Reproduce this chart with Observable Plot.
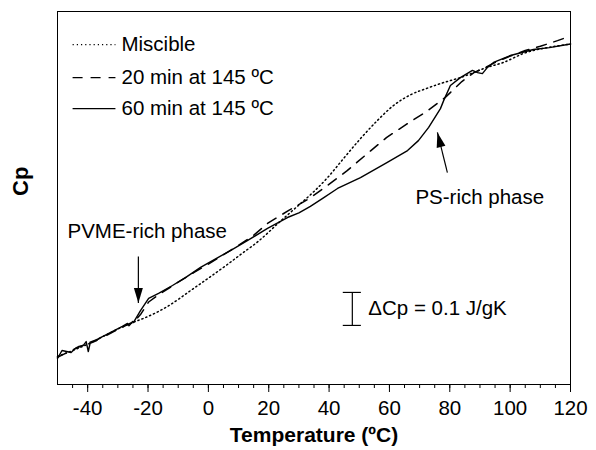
<!DOCTYPE html>
<html>
<head>
<meta charset="utf-8">
<script src="https://cdn.jsdelivr.net/npm/d3@7"></script>
<script src="https://cdn.jsdelivr.net/npm/@observablehq/plot@0.6"></script>
<style>
  html, body { margin: 0; padding: 0; background: white; }
  #chart svg { display: block; }
</style>
</head>
<body>
<div id="chart"></div>
<script>
// ---- Data ----
// 60 min at 145 ºC (solid)
const solidT  = [-50,-48.5,-47,-45.5,-44,-43,-41.5,-40.5,-39.8,-39.2,-37,-36.4,-33,-28.5,-26.8,-26.3,-25.1,-24.8,-22.5,-19.8,-16.5,-11.9,-7.6,-2.6,7.3,12.9,19.6,26.2,30,33.8,38,42.8,50.4,59.3,66,69.6,73,76.9,78,80.2,83.5,87.5,89.2,90.8,92.5,94.5,100.1,107.7,113,120];
const solidCp = [1.279,1.303,1.300,1.297,1.310,1.315,1.318,1.330,1.300,1.325,1.333,1.339,1.355,1.376,1.385,1.378,1.391,1.388,1.424,1.461,1.476,1.500,1.524,1.555,1.606,1.636,1.673,1.706,1.720,1.740,1.765,1.794,1.827,1.873,1.909,1.939,1.979,2.036,2.061,2.106,2.130,2.152,2.145,2.142,2.161,2.176,2.197,2.215,2.221,2.232];
// 20 min at 145 ºC (dashed)
const dashedT  = [-50,-45,-40,-35,-30,-26,-24.8,-22.5,-19.8,-16.5,-10,-5,0,5,10,15,19.6,26.5,33.5,39.6,46,52.7,59,65.7,72.3,78.5,84,88,92,96,100,105,110,115.7,120];
const dashedCp = [1.282,1.305,1.325,1.343,1.367,1.385,1.388,1.412,1.450,1.472,1.510,1.538,1.565,1.593,1.622,1.652,1.688,1.727,1.764,1.804,1.848,1.900,1.948,1.989,2.027,2.070,2.118,2.145,2.162,2.180,2.195,2.212,2.225,2.242,2.256];
// Miscible (dotted)
const dottedT  = [-50,-45,-40,-35,-30,-25,-20.8,-14.2,-4.9,5,11.6,16.3,23.9,30.5,35,39.5,44.8,50.4,56,61.3,67,72.6,76.9,80.2,83.5,87.8,92,97.8,105,110,115,120];
const dottedCp = [1.285,1.303,1.322,1.345,1.368,1.388,1.403,1.433,1.491,1.555,1.600,1.632,1.695,1.748,1.785,1.827,1.885,1.945,2.000,2.045,2.078,2.098,2.112,2.121,2.130,2.145,2.160,2.176,2.205,2.217,2.225,2.232];

const seriesNames = ["Miscible", "20 min at 145 ºC", "60 min at 145 ºC"];
const majorTicks = [-40, -20, 0, 20, 40, 60, 80, 100, 120];
const minorTicks = [-45,-40,-35,-30,-25,-20,-15,-10,-5,0,5,10,15,20,25,30,35,40,45,50,55,60,65,70,75,80,85,90,95,100,105,110,115];
const annotations = ["PVME-rich phase", "PS-rich phase"];
const scaleBarLabel = "ΔCp = 0.1 J/gK";
const scaleBarDelta = 0.1;

// ---- Build tables ----
const toRows = (T, C) => T.map((t, i) => ({T: t, Cp: C[i]}));
const solid = toRows(solidT, solidCp);
const dashed = toRows(dashedT, dashedCp);
const dotted = toRows(dottedT, dottedCp);

const dotDash = "1.2,3";
const dashDash = "10,8";
const FS = 20.5;

// legend rows (y position inside the frame)
const legendY = [2.230, 2.130, 2.036];
const legendDash = [dotDash, dashDash, null];
const legendRow = i => [{name: seriesNames[i], y: legendY[i]}];

// filled arrow head (tip at origin, pointing up)
const arrowHead = {
  draw(ctx) {
    ctx.moveTo(0, 0);
    ctx.lineTo(4.5, 15);
    ctx.lineTo(-4.5, 15);
    ctx.closePath();
  }
};

const arrows = [
  {x1: -23.2, y1: 1.588, x2: -23.2, y2: 1.447, rot: 180},
  {x1: 79.2, y1: 1.842, x2: 75.9, y2: 1.964, rot: -14}
];

const barX = 47.7, barY0 = 1.379;

const legendMarks = [0, 1, 2].flatMap(i => [
  Plot.link(legendRow(i), {x1: () => -45, x2: () => -30.8, y1: "y", y2: "y", stroke: "black", strokeWidth: 1.4, strokeDasharray: legendDash[i]}),
  Plot.text(legendRow(i), {x: () => -28.8, y: "y", text: "name", textAnchor: "start", fontSize: FS})
]);

const chart = Plot.plot({
  width: 596,
  height: 450,
  marginLeft: 57,
  marginRight: 26,
  marginTop: 11,
  marginBottom: 66,
  style: {fontFamily: "'Liberation Sans', Arial, Helvetica, sans-serif", fontSize: FS + "px", background: "white", color: "black"},
  x: {domain: [-50, 120]},
  y: {domain: [1.2, 1.2 + 373 / 330], axis: null},
  marks: [
    Plot.axisX({ticks: minorTicks, tickSize: 4, tickFormat: () => "", label: null}),
    Plot.axisX({ticks: majorTicks, tickSize: 8, tickPadding: 8, tickFormat: d => String(d), label: null, fontSize: FS}),
    Plot.frame({stroke: "black"}),
    Plot.line(dotted, {x: "T", y: "Cp", stroke: "black", strokeWidth: 1.5, strokeDasharray: dotDash, curve: "monotone-x"}),
    Plot.line(dashed, {x: "T", y: "Cp", stroke: "black", strokeWidth: 1.5, strokeDasharray: dashDash}),
    Plot.line(solid, {x: "T", y: "Cp", stroke: "black", strokeWidth: 1.4}),
    ...legendMarks,
    // annotations
    Plot.text([annotations[0]], {x: () => -46.7, y: () => 1.664, textAnchor: "start", fontSize: FS}),
    Plot.text([annotations[1]], {x: () => 68.6, y: () => 1.767, textAnchor: "start", fontSize: FS}),
    Plot.link(arrows, {x1: "x1", y1: "y1", x2: "x2", y2: "y2", stroke: "black", strokeWidth: 1.2}),
    Plot.dot(arrows, {x: "x2", y: "y2", symbol: arrowHead, fill: "black", stroke: "none", rotate: "rot"}),
    // scale bar
    Plot.ruleX([barX], {y1: () => barY0, y2: () => barY0 + scaleBarDelta, stroke: "black", strokeWidth: 1.2}),
    Plot.ruleY([barY0, barY0 + scaleBarDelta], {x1: () => barX - 3, x2: () => barX + 3, stroke: "black", strokeWidth: 1.2}),
    Plot.text([scaleBarLabel], {x: () => 53, y: () => barY0 + scaleBarDelta / 2, textAnchor: "start", fontSize: FS}),
    // axis titles
    Plot.text(["Temperature (ºC)"], {frameAnchor: "bottom", dy: 57, fontWeight: "bold", fontSize: 21}),
    Plot.text(["Cp"], {frameAnchor: "left", dx: -37, dy: -2, rotate: -90, fontWeight: "bold", fontSize: 22})
  ]
});
document.getElementById("chart").appendChild(chart);
</script>
</body>
</html>
